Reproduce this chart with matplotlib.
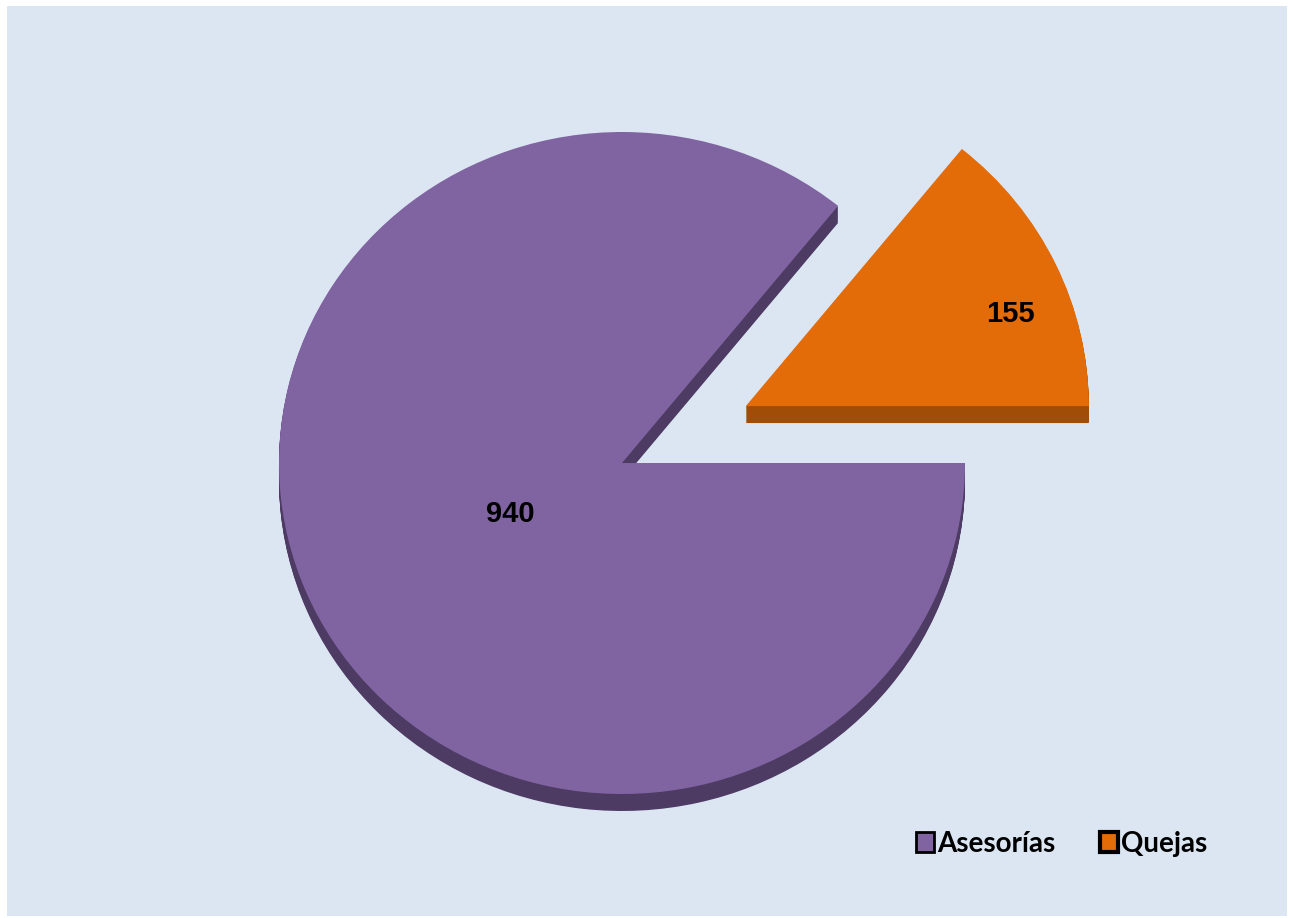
import numpy as np
import matplotlib.pyplot as plt
from matplotlib.patches import Rectangle, Patch

labels = ['Asesorías', 'Quejas']
values = [940, 155]
colors = ['#8064A2', '#E36C09']
side_colors = ['#4D3B63', '#A04E07']

total = sum(values)
start = 360 * values[1] / total   # so Quejas sits right of 0 degrees

W, H = 1289, 918
sy = 0.965   # slight vertical squash of the disc
fig = plt.figure(figsize=(W / 100, H / 100), dpi=100, facecolor='white')
ax = fig.add_axes([0, 0, 1, 1])

cx, cy, r = 622, 455 / sy, 343
depth = 17 / sy
explode = [0, 0.4 * r]   # pie takes explode in data units

# light blue panel
ax.add_patch(Rectangle((7, 2 / sy), 1280, 910 / sy, facecolor='#DCE6F2',
                       edgecolor='none', zorder=0))

# side of the disc: stack shifted copies in the darker colour
for d in np.linspace(depth, 1, 18):
    ax.pie(values, colors=side_colors, explode=explode, startangle=start,
           counterclock=True, radius=r, center=(cx, cy - d),
           wedgeprops=dict(linewidth=0))

wedges, _ = ax.pie(values, colors=colors, explode=explode, startangle=start,
                   counterclock=True, radius=r, center=(cx, cy),
                   wedgeprops=dict(linewidth=0))

# value labels
label_dist = [0.36, 0.82]
label_turn = [0, -0.1]
for w, v, ld, tn in zip(wedges, values, label_dist, label_turn):
    mid = np.deg2rad((w.theta1 + w.theta2) / 2) + tn
    ox, oy = w.center
    ax.text(ox + ld * r * np.cos(mid), oy + ld * r * np.sin(mid), str(v),
            ha='center', va='center', fontsize=21, fontweight='bold',
            family='Liberation Sans', color='black')

ax.set_xlim(0, W)
ax.set_ylim(0, H / sy)
ax.set_aspect('auto')
ax.axis('off')

handles = [Patch(facecolor=colors[0], edgecolor='black', linewidth=2),
           Patch(facecolor=colors[1], edgecolor='black', linewidth=3)]
fig.legend(handles, labels, loc='center', bbox_to_anchor=(0.8235, 0.081), ncol=2,
           frameon=False, handlelength=0.65, handleheight=0.7, handletextpad=0.12,
           columnspacing=1.6, prop=dict(family='Lato', weight='bold', size=20))

fig.savefig('out.png', dpi=100, facecolor='white')
